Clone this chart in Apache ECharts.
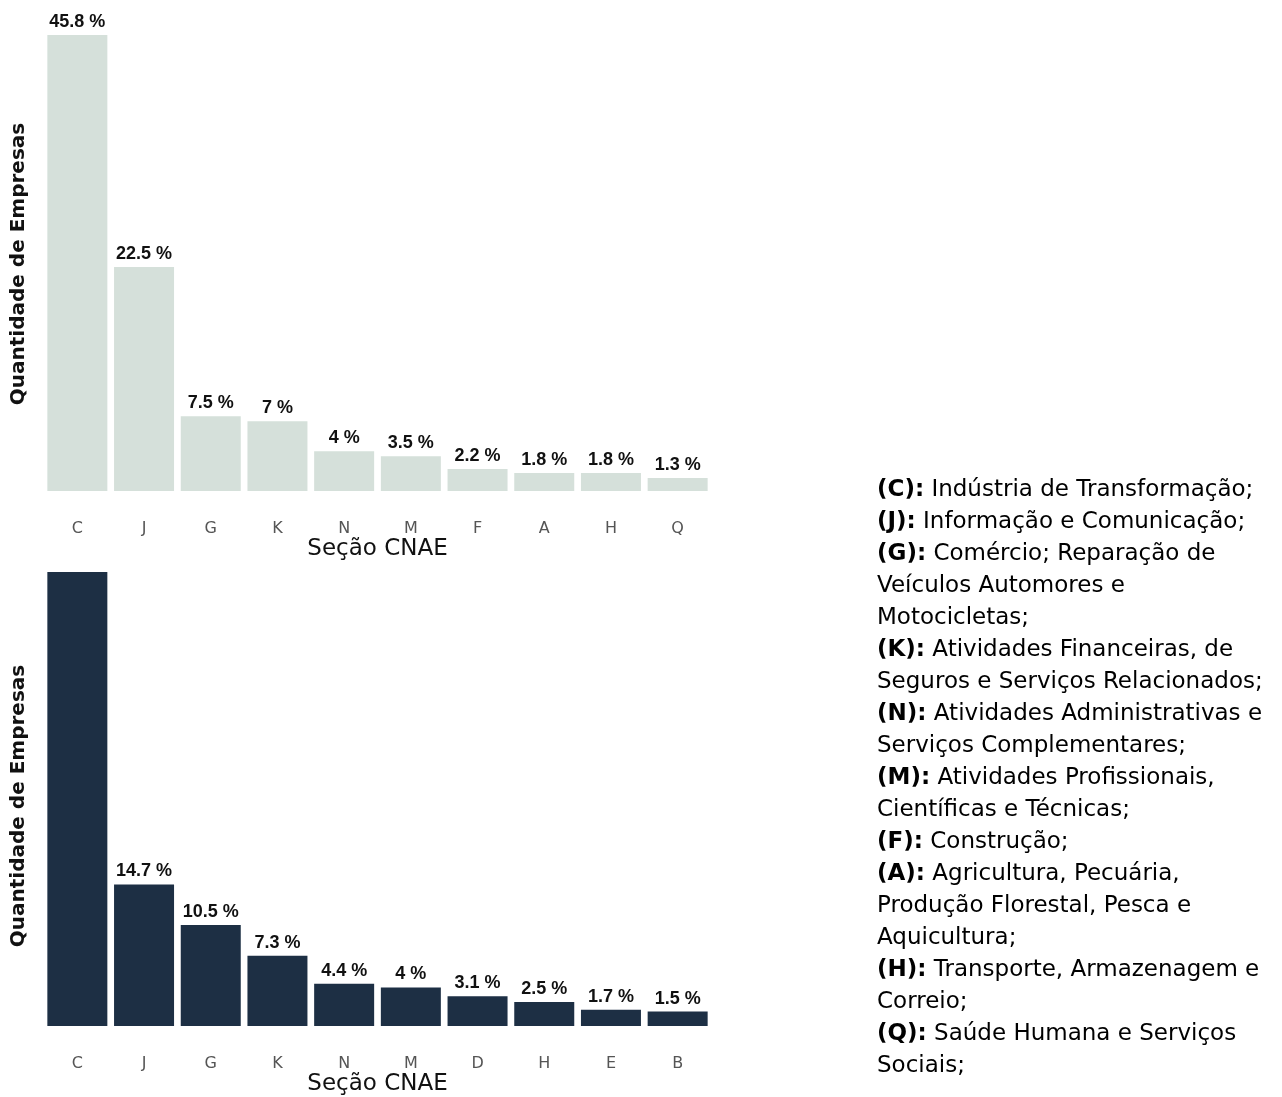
<!DOCTYPE html>
<html><head><meta charset="utf-8">
<script src="https://cdn.jsdelivr.net/npm/echarts@6/dist/echarts.min.js"></script>
<style>html,body{margin:0;padding:0;background:#fff}#c{width:1282px;height:1097px}</style>
</head><body><div id="c"></div>
<script>
const categoriesTop = ['C','J','G','K','N','M','F','A','H','Q'];
const valuesTop = [45.8, 22.5, 7.5, 7, 4, 3.5, 2.2, 1.8, 1.8, 1.3];
const categoriesBottom = ['C','J','G','K','N','M','D','H','E','B'];
const valuesBottom = [48, 14.7, 10.5, 7.3, 4.4, 4, 3.1, 2.5, 1.7, 1.5];
const yAxisName = 'Quantidade de Empresas';
const xAxisName = 'Seção CNAE';
const legendLines = [
  ['(C):', ' Indústria de Transformação;'],
  ['(J):', ' Informação e Comunicação;'],
  ['(G):', ' Comércio; Reparação de'],
  ['', 'Veículos Automores e'],
  ['', 'Motocicletas;'],
  ['(K):', ' Atividades Financeiras, de'],
  ['', 'Seguros e Serviços Relacionados;'],
  ['(N):', ' Atividades Administrativas e'],
  ['', 'Serviços Complementares;'],
  ['(M):', ' Atividades Profissionais,'],
  ['', 'Científicas e Técnicas;'],
  ['(F):', ' Construção;'],
  ['(A):', ' Agricultura, Pecuária,'],
  ['', 'Produção Florestal, Pesca e'],
  ['', 'Aquicultura;'],
  ['(H):', ' Transporte, Armazenagem e'],
  ['', 'Correio;'],
  ['(Q):', ' Saúde Humana e Serviços'],
  ['', 'Sociais;']
];

const chart = echarts.init(document.getElementById('c'));
const topMax = 47;
const bottomMax = 47.15;

function xAxis(idx, cats){
  return {
    type:'category', gridIndex:idx, data:cats,
    axisLine:{show:false}, axisTick:{show:false},
    axisLabel:{color:'#555', fontSize:16, fontFamily:'DejaVu Sans', margin:30},
    name:xAxisName, nameLocation:'middle', nameGap:47,
    nameTextStyle:{color:'#111', fontSize:23, fontFamily:'DejaVu Sans'}
  };
}
function yAxis(idx, max){
  return {
    type:'value', gridIndex:idx, min:0, max:max,
    axisLine:{show:false}, axisTick:{show:false}, axisLabel:{show:false},
    splitLine:{show:false},
    name:yAxisName, nameLocation:'middle', nameGap:15,
    nameTextStyle:{color:'#111', fontSize:20, fontWeight:'bold', fontFamily:'DejaVu Sans', padding:[0,14,0,0]}
  };
}
function labelOpt(max){
  return {
    show:true, position:'top', distance:4,
    fontFamily:'Liberation Sans, Arial', fontWeight:'bold', fontSize:18, color:'#111',
    formatter: p => p.value > max ? '' : (p.value + ' %')
  };
}

let rich = {
  b:{fontFamily:'DejaVu Sans', fontWeight:'bold', fontSize:23, color:'#1e2f45', lineHeight:32},
  n:{fontFamily:'DejaVu Sans', fontSize:23, color:'#34465a', lineHeight:32}
};
const legendText = legendLines.map(l => (l[0] ? '{b|' + l[0] + '}' : '') + '{n|' + l[1] + '}').join('\n');

chart.setOption({
  animation:false,
  grid:[
    {left:44, right:571, top:23, height:468},
    {left:44, right:571, top:572, height:455}
  ],
  xAxis:[xAxis(0, categoriesTop), xAxis(1, categoriesBottom)],
  yAxis:[yAxis(0, topMax), yAxis(1, bottomMax)],
  series:[
    {type:'bar', xAxisIndex:0, yAxisIndex:0, data:valuesTop, barWidth:60,
     itemStyle:{color:'#d5e0da'}, label:labelOpt(topMax)},
    {type:'bar', xAxisIndex:1, yAxisIndex:1, data:valuesBottom, barWidth:60, clip:true,
     itemStyle:{color:'#1d2f44'}, label:labelOpt(bottomMax)}
  ],
  graphic:[{
    type:'text', left:877, top:474,
    style:{text:legendText, rich:rich, fontFamily:'DejaVu Sans', fontSize:23, lineHeight:32}
  }]
});
</script></body></html>
